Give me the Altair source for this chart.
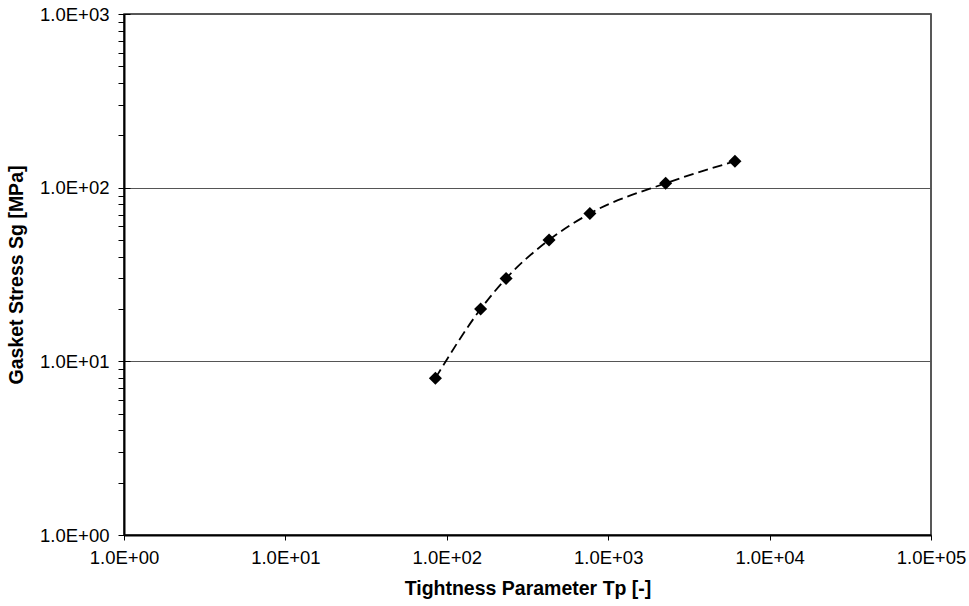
import altair as alt
import pandas as pd

# Data
tightness = [85, 162, 233, 430, 770, 2270, 6100]
stress = [8, 20, 30, 50, 71, 106, 142]

x_ticks = [1, 10, 100, 1000, 10000, 100000]
y_ticks = [1, 10, 100, 1000]
y_minor = [m * 10 ** k for k in range(3) for m in range(2, 10)]

df = pd.DataFrame({"Tp": tightness, "Sg": stress})

FONT = "Liberation Sans"
label_expr = "'1.0E+0' + round(log(datum.value) / LN10)"

x_scale = alt.Scale(type="log", domain=[1, 100000], nice=False)
y_scale = alt.Scale(type="log", domain=[1, 1000], nice=False)

x_axis = alt.Axis(
    values=x_ticks, labelExpr=label_expr, title="Tightness Parameter  Tp [-]",
    grid=False, tickSize=5, tickColor="black", domainColor="black", domainWidth=2,
    labelFont=FONT, labelFontSize=18.5, labelColor="black", labelPadding=8,
    titleFont=FONT, titleFontSize=19.5, titleFontWeight="bold", titleColor="black",
    titlePadding=13, labelFlush=False,
)
x_enc = alt.X("Tp:Q", scale=x_scale, axis=x_axis)

base = alt.Chart(df)

line = base.mark_line(color="black", strokeDash=[10, 5], strokeWidth=1.8, interpolate="monotone").encode(
    x=x_enc,
    y=alt.Y("Sg:Q", scale=y_scale, axis=alt.Axis(
        orient="left", values=y_ticks, labelExpr=label_expr, title="Gasket Stress Sg [MPa]",
        grid=True, gridColor="#555", gridWidth=1, tickSize=6, tickColor="black",
        domainColor="black", domainWidth=2,
        labelFont=FONT, labelFontSize=18.5, labelColor="black", labelPadding=9,
        titleFont=FONT, titleFontSize=19.5, titleFontWeight="bold", titleColor="black",
        titlePadding=13, labelFlush=False,
    )),
)

points = base.mark_point(shape="diamond", filled=True, color="black", size=170, opacity=1).encode(
    x=x_enc,
    y=alt.Y("Sg:Q", scale=y_scale, axis=alt.Axis(
        orient="left", values=y_minor, labels=False, title=None, grid=False,
        domain=False, tickSize=6, tickColor="black",
    )),
)

inner_ticks = base.mark_point(opacity=0).encode(
    x=x_enc,
    y=alt.Y("Sg:Q", scale=y_scale, axis=alt.Axis(
        orient="left", values=y_ticks, labels=False, title=None, grid=False,
        domain=False, tickSize=6, tickColor="black", offset=-6,
    )),
)

chart = (
    alt.layer(line, points, inner_ticks)
    .resolve_scale(y="shared")
    .resolve_axis(y="independent")
    .properties(
        width=807, height=521, autosize="none",
        padding={"left": 124, "top": 14, "right": 38, "bottom": 71},
        background="white",
    )
    .configure_view(stroke="#222", strokeWidth=1.5)
)

chart.save("out.html", embed_options={"renderer": "svg", "actions": False})
